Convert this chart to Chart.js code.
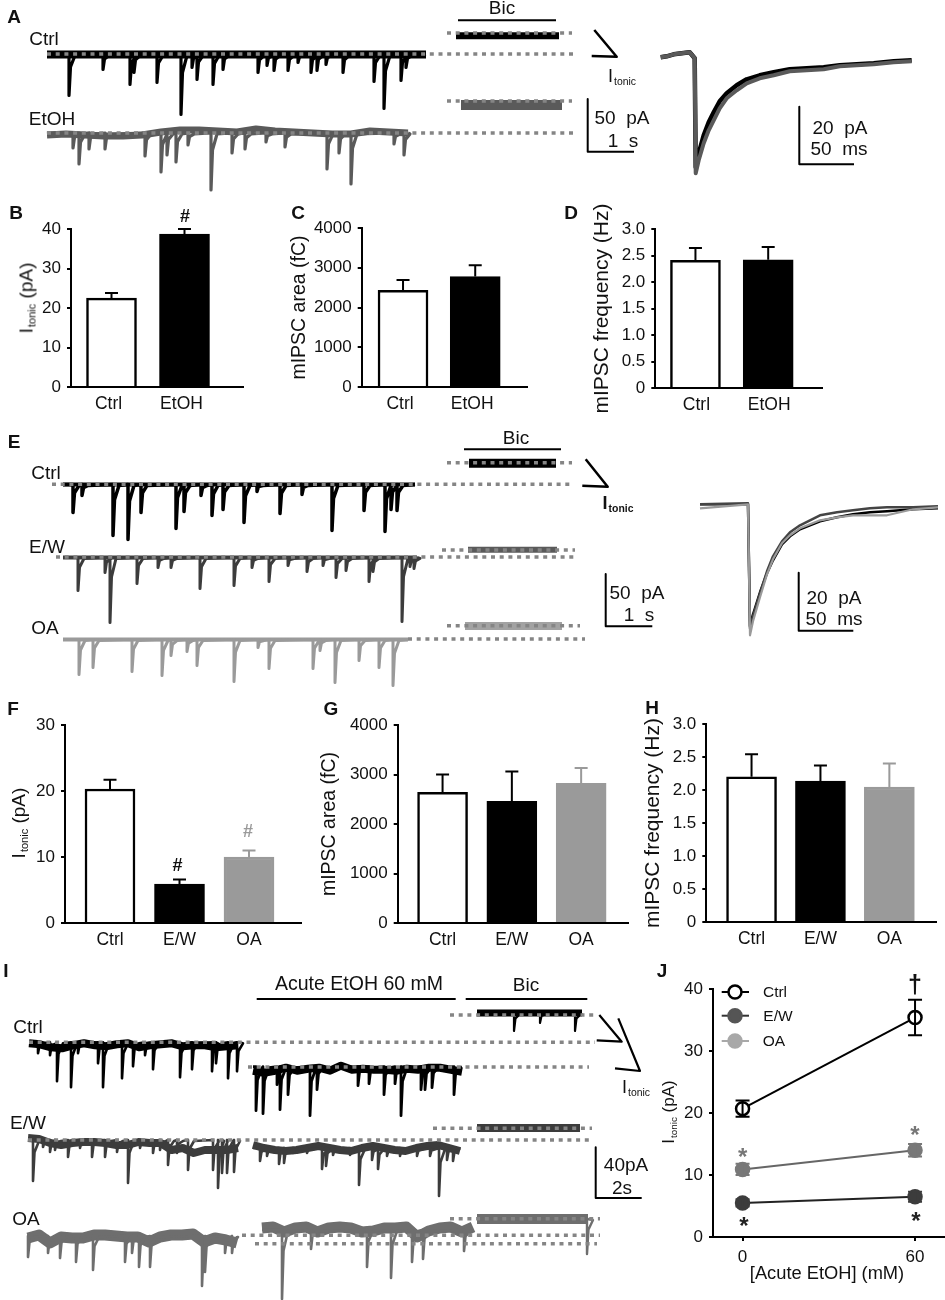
<!DOCTYPE html>
<html>
<head>
<meta charset="utf-8">
<title>Tonic current and mIPSC panels</title>
<script src="https://cdn.jsdelivr.net/npm/chart.js@4"></script>
<style>
  html, body { margin: 0; background: #fff; }
  #page { position: relative; width: 945px; height: 1300px; overflow: hidden; font-family: "Liberation Sans", Arial, sans-serif; color: #111; }
  #page canvas { position: absolute; }
  .t { position: absolute; white-space: pre; line-height: 1; transform: translate(-50%, -50%); }
  .t small { font-size: 0.58em; position: relative; top: 0.3em; margin-left: 1px; }
</style>
</head>
<body>
<div id="page"></div>
<script>
// Bar panels: categories, means, top of the error bar
const catsTwo = ['Ctrl', 'EtOH'];
const catsThree = ['Ctrl', 'E/W', 'OA'];
const bValues = [22.5, 38.7];
const bErrTop = [23.8, 40];
const cValues = [2430, 2780];
const cErrTop = [2690, 3060];
const dValues = [2.41, 2.42];
const dErrTop = [2.64, 2.66];
const fValues = [20.3, 5.9, 10];
const fErrTop = [21.7, 6.6, 11];
const gValues = [2640, 2460, 2820];
const gErrTop = [3000, 3060, 3130];
const hValues = [2.2, 2.135, 2.045];
const hErrTop = [2.54, 2.37, 2.4];
const bTicks = [0, 10, 20, 30, 40];
const cTicks = [0, 1000, 2000, 3000, 4000];
const dTicks = [0, 0.5, 1, 1.5, 2, 2.5, 3];
const fTicks = [0, 10, 20, 30];

// Panel J: acute EtOH dose response
const jDoses = [0, 60];
const jTicks = [0, 10, 20, 30, 40];
const jCtrl = [20.7, 35.4];
const jCtrlErr = [1.3, 2.85];
const jEW = [5.5, 6.5];
const jEWErr = [0.6, 0.8];
const jOA = [10.9, 14];
const jOAErr = [0.9, 1];

// Sweeps: event position along the sweep and its depth (pA)
const aCtrlT = [22, 56, 83, 87, 110, 134, 145, 150, 166, 176, 211, 220, 227, 241, 251, 264, 270, 279, 296, 327, 337, 354, 359];
const aCtrlD = [41, 15, 30, 18, 28, 60, 13, 25, 30, 15, 18, 11, 16, 16, 8, 18, 16, 10, 18, 27, 54, 26, 13];
const aEtohT = [26, 32, 42, 58, 98, 114, 120, 129, 141, 164, 185, 198, 219, 238, 280, 292, 304, 347, 357];
const aEtohD = [15, 31, 16, 16, 23, 39, 22, 29, 12, 57, 20, 16, 9, 14, 36, 20, 51, 11, 22];
const eCtrlT = [10, 19, 50, 65, 78, 113, 121, 138, 149, 160, 181, 194, 217, 239, 269, 301, 322, 328, 334];
const eCtrlD = [28, 11, 51, 55, 28, 44, 27, 11, 31, 25, 38, 7, 29, 10, 46, 26, 47, 25, 26];
const eEwT = [15, 42, 47, 74, 95, 108, 137, 171, 189, 206, 225, 244, 260, 273, 283, 306, 310, 339, 347, 351];
const eEwD = [33, 15, 65, 26, 10, 10, 31, 28, 10, 24, 8, 14, 8, 20, 13, 24, 14, 64, 9, 11];
const eOaT = [16, 30, 69, 99, 108, 124, 134, 171, 195, 206, 250, 257, 272, 296, 316, 330];
const eOaD = [35, 28, 32, 36, 16, 12, 26, 42, 8, 29, 29, 11, 43, 21, 28, 46];
const iCtrlT = [9, 21, 28, 42, 49, 69, 74, 93, 104, 116, 124, 151, 163, 183, 187, 199, 208];
const iCtrlD = [11, 13, 39, 45, 11, 21, 45, 36, 24, 13, 27, 35, 27, 29, 21, 36, 29];
const iCtrlAcuteT = [3, 10, 24, 27, 35, 57, 64, 105, 116, 131, 142, 148, 168, 172, 179, 201];
const iCtrlAcuteD = [44, 47, 18, 43, 28, 49, 23, 19, 17, 28, 17, 49, 23, 23, 21, 28];
const iEwT = [5, 15, 22, 27, 40, 52, 64, 77, 89, 100, 112, 125, 132, 140, 149, 160, 185, 190, 194, 199, 206];
const iEwD = [41, 7, 12, 10, 17, 8, 17, 17, 12, 43, 8, 13, 10, 25, 13, 30, 30, 48, 33, 33, 32];
const iEwAcuteT = [7, 14, 26, 31, 40, 54, 69, 73, 80, 97, 106, 119, 125, 134, 147, 164, 177, 186, 194, 200];
const iEwAcuteD = [13, 8, 16, 15, 5, 5, 21, 18, 7, 7, 37, 12, 21, 8, 8, 8, 8, 48, 12, 13];
const iOaT = [0, 20, 32, 48, 65, 97, 104, 111, 122, 174, 177, 197, 204];
const iOaD = [21, 17, 22, 26, 34, 26, 17, 31, 31, 50, 36, 17, 17];
const iOaAcuteT = [20, 49, 105, 129, 150, 161, 202];
const iOaAcuteD = [69, 19, 37, 48, 32, 29, 21];
const iBicCtrlT = [37, 63, 98];
const iBicCtrlD = [18, 10, 18];
const iBicOaT = [110];
const iBicOaD = [35];

// Baseline drift along a sweep, read at even steps (pA)
const aEtohDrift = [2, 1, 2, 3, 3, 2, -1, -3, -3, -2, -1, -4, -2, -1, 0, 1, 1, -2, -1, 0];
const iCtrlDrift = [1, 2, 5, 6, 3, 1, 3, 4, 2, 1, 5, 3, 2, 1, 4, 3, 3, 5, 4, 3];
const iCtrlAcuteDrift = [4, 6, 4, 1, 4, 2, 1, 4, -1, 3, 2, 3, 3, 4, 2, 3, 1, 1, 3, 5];
const iEwDrift = [-2, -1, 3, 5, 3, 2, 2, 3, 5, 5, 2, 3, 3, 10, 8, 13, 10, 10, 10, 8];
const iEwAcuteDrift = [-3, 0, 2, 3, 2, 0, -2, 0, 2, 3, 0, -2, 0, 2, 3, 0, -2, -3, 0, 3];
const iOaDrift = [2, -1, 7, 1, 2, 2, -1, -1, 0, 1, 1, 6, 1, -1, -1, -2, 6, 2, 4, 7];
const iOaAcuteDrift = [-2, -3, 2, -2, -3, 2, -2, -3, -2, 2, 1, -2, -2, -3, 7, 1, -2, -3, 2, -3];

// Averaged mIPSCs: time along the trace and depth (pA)
const avgAT = [0, 6, 13, 29, 34, 35, 38, 43, 48, 53, 59, 66, 76, 86, 99, 113, 129, 146, 163, 179, 196, 213, 233, 251];
const avgACtrl = [0, -1, -3, -5, 1, 110, 96, 78, 65, 55, 44, 36, 28, 22, 18, 15, 12, 11, 10, 8, 7, 6, 4, 3];
const avgAEtoh = [0, -1, -3, -5, 1, 116, 103, 86, 73, 63, 51, 41, 33, 26, 21, 18, 14, 13, 12, 9, 8, 7, 5, 4];
const avgET = [0, 48, 50, 53, 60, 67, 73, 82, 90, 100, 110, 120, 137, 153, 170, 187, 213, 238];
const avgECtrl = [0, 0, 122, 110, 88, 69, 56, 40, 32, 25, 21, 17, 13, 10, 8, 7, 5, 4];
const avgEEw = [0, -1, 124, 112, 89, 67, 52, 37, 28, 21, 16, 11, 8, 6, 4, 3, 3, 2];
const avgEOa = [4, 0, 131, 117, 93, 70, 55, 39, 31, 24, 20, 16, 13, 11, 11, 11, 5, 3];

const BLACK = '#000';
const DARK = '#3c3c3c';
const MID = '#5a5a5a';
const GREY = '#9a9a9a';
const DOT = '#858585';
const FONT = '"Liberation Sans", Arial, sans-serif';
const TOP_ROOM = 40;

const page = document.getElementById('page');

function addCanvas(left, top, width, height) {
    const c = document.createElement('canvas');
    c.width = width;
    c.height = height;
    c.style.left = left + 'px';
    c.style.top = top + 'px';
    page.appendChild(c);
    return c;
}

function txt(html, x, y, size, opt) {
    opt = opt || {};
    const el = document.createElement('div');
    el.className = 't';
    el.innerHTML = html;
    el.style.left = x + 'px';
    el.style.top = y + 'px';
    el.style.fontSize = size + 'px';
    if (opt.bold) el.style.fontWeight = 'bold';
    if (opt.color) el.style.color = opt.color;
    if (opt.rot) el.style.transform = 'translate(-50%, -50%) rotate(-90deg)';
    page.appendChild(el);
}

// Error bars are not in Chart.js, so draw them through the chart's scales
const errorBars = {
    id: 'errorBars',
    afterDatasetsDraw(chart) {
        const ctx = chart.ctx;
        chart.data.datasets.forEach(function(ds, i) {
            if (!ds.errTop && !ds.errPlus) return;
            const meta = chart.getDatasetMeta(i);
            meta.data.forEach(function(el, k) {
                const cols = ds.errColors;
                const x = el.x;
                const yScale = chart.scales.y;
                let top, bottom;
                if (ds.errTop) {
                    top = yScale.getPixelForValue(ds.errTop[k]);
                    bottom = yScale.getPixelForValue(ds.means[k]);
                } else {
                    top = yScale.getPixelForValue(ds.means[k] + ds.errPlus[k]);
                    bottom = yScale.getPixelForValue(ds.means[k] - ds.errPlus[k]);
                }
                ctx.save();
                ctx.strokeStyle = cols[k];
                ctx.lineWidth = 2;
                ctx.beginPath();
                ctx.moveTo(x, top);
                ctx.lineTo(x, bottom);
                ctx.moveTo(x - ds.cap, top);
                ctx.lineTo(x + ds.cap, top);
                if (ds.errPlus) {
                    ctx.moveTo(x - ds.cap, bottom);
                    ctx.lineTo(x + ds.cap, bottom);
                }
                ctx.stroke();
                ctx.restore();
            });
        });
    }
};

function yAxis(ticks, max, pad, title, titleSize) {
    return {
        min: 0,
        max: max,
        afterBuildTicks: function(s) { s.ticks = ticks.map(function(v) { return { value: v }; }); },
        afterFit: function(s) { s.width = pad; },
        border: { color: BLACK, width: 2 },
        grid: { drawOnChartArea: false, color: BLACK, lineWidth: 2, tickLength: 4 },
        ticks: {
            color: '#111',
            padding: 6,
            font: { family: FONT, size: 17 },
            callback: function(v) { return (max === 3 && v !== 0) ? v.toFixed(1) : String(v); }
        },
        title: title ? { display: true, text: title, color: '#111', padding: 0, font: { family: FONT, size: titleSize } } : { display: false }
    };
}

// Plot rectangle is given in page pixels; first/step place the bar centres
function barPanel(cfg) {
    const pad = cfg.titleX ? cfg.l - cfg.titleX + cfg.titleSize * 0.6 : 60;
    const c = addCanvas(cfg.l - pad, cfg.t - TOP_ROOM, cfg.r - cfg.l + pad + 8, cfg.b - cfg.t + TOP_ROOM + 32);
    const pos = cfg.cats.map(function(_, i) { return i; });
    new Chart(c, {
        type: 'bar',
        data: {
            datasets: [{
                data: pos.map(function(p, i) { return { x: p, y: cfg.values[i] }; }),
                means: cfg.values,
                errTop: cfg.errTop,
                errColors: cfg.errColors,
                cap: 6.5,
                backgroundColor: cfg.fills,
                borderColor: cfg.edges,
                borderWidth: 2.5,
                barThickness: 50,
                borderSkipped: 'bottom'
            }]
        },
        options: {
            responsive: false,
            animation: false,
            layout: { autoPadding: false, padding: { top: TOP_ROOM, right: 8, left: 0, bottom: 0 } },
            plugins: { legend: { display: false }, tooltip: { enabled: false } },
            scales: {
                x: {
                    type: 'linear',
                    offset: false,
                    bounds: 'data',
                    min: (cfg.l - cfg.first) / cfg.step,
                    max: (cfg.r - cfg.first) / cfg.step,
                    afterBuildTicks: function(s) { s.ticks = pos.map(function(v) { return { value: v }; }); },
                    afterFit: function(s) { s.height = 32; },
                    border: { color: BLACK, width: 2 },
                    grid: { display: false, drawTicks: false },
                    ticks: {
                        color: '#111',
                        padding: 7,
                        maxRotation: 0,
                        autoSkip: false,
                        labelOffset: cfg.shift || 0,
                        font: { family: FONT, size: 17.5 },
                        callback: function(v) { return cfg.cats[v]; }
                    }
                },
                y: yAxis(cfg.ticks, cfg.max, pad, cfg.title, cfg.titleSize)
            }
        },
        plugins: [errorBars]
    });
}

const WHITE_BAR = '#fff';

barPanel({ l: 71, t: 229, r: 243, b: 387.5, first: 111.5, step: 73, shift: -3, cats: catsTwo, values: bValues, errTop: bErrTop,
    fills: [WHITE_BAR, BLACK], edges: [BLACK, BLACK], errColors: [BLACK, BLACK], ticks: bTicks, max: 40 });
barPanel({ l: 362, t: 228, r: 528, b: 387.5, first: 403.5, step: 72.5, shift: -3, cats: catsTwo, values: cValues, errTop: cErrTop,
    fills: [WHITE_BAR, BLACK], edges: [BLACK, BLACK], errColors: [BLACK, BLACK], ticks: cTicks, max: 4000,
    title: 'mIPSC area (fC)', titleX: 300, titleSize: 19.5 });
barPanel({ l: 655.7, t: 229, r: 823, b: 388, first: 696, step: 73, shift: 1, cats: catsTwo, values: dValues, errTop: dErrTop,
    fills: [WHITE_BAR, BLACK], edges: [BLACK, BLACK], errColors: [BLACK, BLACK], ticks: dTicks, max: 3,
    title: 'mIPSC frequency (Hz)', titleX: 603, titleSize: 21 });
barPanel({ l: 65, t: 724.5, r: 301, b: 922.5, first: 110, step: 69.5, cats: catsThree, values: fValues, errTop: fErrTop,
    fills: [WHITE_BAR, BLACK, GREY], edges: [BLACK, BLACK, GREY], errColors: [BLACK, BLACK, GREY], ticks: fTicks, max: 30 });
barPanel({ l: 398, t: 724.5, r: 629, b: 922.5, first: 443, step: 69.5, cats: catsThree, values: gValues, errTop: gErrTop,
    fills: [WHITE_BAR, BLACK, GREY], edges: [BLACK, BLACK, GREY], errColors: [BLACK, BLACK, GREY], ticks: cTicks, max: 4000,
    title: 'mIPSC area (fC)', titleX: 330, titleSize: 19.5 });
barPanel({ l: 706.7, t: 724.3, r: 936.7, b: 923, first: 752, step: 69, cats: catsThree, values: hValues, errTop: hErrTop,
    fills: [WHITE_BAR, BLACK, GREY], edges: [BLACK, BLACK, GREY], errColors: [BLACK, BLACK, GREY], ticks: dTicks, max: 3,
    title: 'mIPSC frequency (Hz)', titleX: 654, titleSize: 21 });

// Panel J
(function() {
    const l = 712.7, t = 989, r = 945, b = 1237.7, pad = 60;
    const perUnit = (915 - 742.3) / 60;
    const c = addCanvas(l - pad, t - TOP_ROOM, r - l + pad, b - t + TOP_ROOM + 32);
    function series(vals, errs, line, fill, edge, errCol) {
        return {
            data: jDoses.map(function(d, i) { return { x: d, y: vals[i] }; }),
            means: vals,
            errPlus: errs,
            errColors: [errCol, errCol],
            cap: 7,
            borderColor: line,
            borderWidth: 2,
            pointRadius: 6.5,
            pointBorderWidth: 2.5,
            pointBackgroundColor: fill,
            pointBorderColor: edge
        };
    }
    new Chart(c, {
        type: 'line',
        data: {
            datasets: [
                series(jCtrl, jCtrlErr, BLACK, '#fff', BLACK, BLACK),
                series(jEW, jEWErr, '#222', DARK, DARK, DARK),
                series(jOA, jOAErr, '#666', '#787878', '#787878', '#787878')
            ]
        },
        options: {
            responsive: false,
            animation: false,
            layout: { autoPadding: false, padding: { top: TOP_ROOM, right: 0, left: 0, bottom: 0 } },
            plugins: { legend: { display: false }, tooltip: { enabled: false } },
            scales: {
                x: {
                    type: 'linear',
                    bounds: 'data',
                    min: -(742.3 - l) / perUnit,
                    max: (r - 742.3) / perUnit,
                    afterBuildTicks: function(s) { s.ticks = jDoses.map(function(v) { return { value: v }; }); },
                    afterFit: function(s) { s.height = 32; },
                    border: { color: BLACK, width: 2 },
                    grid: { drawOnChartArea: false, color: BLACK, lineWidth: 2, tickLength: 4 },
                    ticks: { color: '#111', padding: 6, font: { family: FONT, size: 17 }, maxRotation: 0, autoSkip: false }
                },
                y: yAxis(jTicks, 40, pad)
            }
        },
        plugins: [errorBars]
    });
})();

// Everything that is a sweep or a scale bar goes on one chart behind the panels
const overlay = [];

function seg(points, color, width) {
    overlay.push({
        data: points.map(function(p) { return { x: p[0], y: p[1] }; }),
        borderColor: color,
        borderWidth: width,
        order: 2
    });
}

function dots(x1, x2, y) {
    overlay.push({
        data: [{ x: x1, y: y }, { x: x2, y: y }],
        borderColor: DOT,
        borderWidth: 3.5,
        borderDash: [4, 4.7],
        order: 0
    });
}

function sweep(times, depths, x0, base, len, color, width, band, drift) {
    const pts = [{ x: x0, y: base }];
    times.forEach(function(t, i) {
        pts.push({ x: x0 + t, y: base });
        pts.push({ x: x0 + t, y: base + depths[i] });
        pts.push({ x: x0 + t + 1.5, y: base + depths[i] * 0.3 });
        pts.push({ x: x0 + t + 6, y: base + 1 });
    });
    pts.push({ x: x0 + len, y: base });
    overlay.push({ data: pts, borderColor: color, borderWidth: width, order: 1 });
    if (drift) {
        seg(drift.map(function(v, i) { return [x0 + i * len / (drift.length - 1), base + v]; }), color, band);
    } else {
        seg([[x0, base], [x0 + len, base]], color, band);
    }
}

function avg(times, depths, x0, base, color, width, order) {
    overlay.push({
        data: times.map(function(t, i) { return { x: x0 + t, y: base + depths[i] }; }),
        borderColor: color,
        borderWidth: width,
        order: order
    });
}

function legendRow(y, fill, edge, line) {
    overlay.push({
        data: [{ x: 721.7, y: y }, { x: 735, y: y }, { x: 749, y: y }],
        borderColor: line,
        borderWidth: 2,
        pointRadius: [0, 6.5, 0],
        pointBorderWidth: 2.5,
        pointBackgroundColor: fill,
        pointBorderColor: edge,
        order: 1
    });
}

// Panel A
sweep(aCtrlT, aCtrlD, 47, 54.5, 379, BLACK, 3.2, 8);
sweep(aEtohT, aEtohD, 47, 133, 361, MID, 3.2, 7, aEtohDrift);
seg([[456, 35.7], [559, 35.7]], BLACK, 7);
seg([[461, 105], [562, 105]], MID, 10);
dots(47, 573, 54);
dots(47, 573, 133);
dots(447, 572, 33);
dots(447, 572, 101);
seg([[458, 20.3], [556, 20.3]], BLACK, 2);
seg([[594.3, 30], [616.7, 56.7], [591.7, 56]], BLACK, 2.5);
seg([[587.7, 99], [587.7, 151.7], [634, 151.7]], BLACK, 2);
seg([[799.3, 106.7], [799.3, 164.3], [854, 164.3]], BLACK, 2);
avg(avgAT, avgACtrl, 660.7, 57.3, BLACK, 4.5, 2);
avg(avgAT, avgAEtoh, 660.7, 57.3, MID, 4, 1);

// Panel E
sweep(eCtrlT, eCtrlD, 63, 484.5, 352, BLACK, 3.5, 4);
sweep(eEwT, eEwD, 63, 557.5, 354, DARK, 3, 4);
sweep(eOaT, eOaD, 63, 639.5, 345, GREY, 3, 4);
seg([[469, 463.3], [556, 463.3]], BLACK, 9);
seg([[468, 549.7], [557, 549.7]], MID, 6);
seg([[465, 626], [562, 626]], '#a2a2a2', 8);
dots(52, 574, 484.3);
dots(56, 574, 557);
dots(408, 585, 639);
dots(447, 572, 462.7);
dots(442, 575, 550);
dots(447, 580, 625.7);
seg([[464, 449.3], [561, 449.3]], BLACK, 2);
seg([[585.7, 459.3], [607.7, 486.7], [582.3, 485.7]], BLACK, 2.5);
seg([[605.7, 574], [605.7, 626.3], [652.3, 626.3]], BLACK, 2);
seg([[798.7, 572.7], [798.7, 630.7], [853.3, 630.7]], BLACK, 2);
avg(avgET, avgECtrl, 700, 504.3, BLACK, 2.5, 3);
avg(avgET, avgEEw, 700, 504.3, '#444', 2.5, 2);
avg(avgET, avgEOa, 700, 504.3, GREY, 2.2, 1);

// Panel I
sweep(iCtrlT, iCtrlD, 29, 1042.3, 209, BLACK, 2.6, 8, iCtrlDrift);
sweep(iCtrlAcuteT, iCtrlAcuteD, 253, 1066.7, 209, BLACK, 2.8, 8, iCtrlAcuteDrift);
sweep(iEwT, iEwD, 28, 1140, 210, DARK, 2.6, 8, iEwDrift);
sweep(iEwAcuteT, iEwAcuteD, 253, 1148, 207, DARK, 2.6, 8, iEwAcuteDrift);
sweep(iOaT, iOaD, 28, 1236, 209, '#6e6e6e', 2.6, 11, iOaDrift);
sweep(iOaAcuteT, iOaAcuteD, 262, 1230, 211, '#6e6e6e', 2.6, 11, iOaAcuteDrift);
sweep(iBicCtrlT, iBicCtrlD, 477, 1013, 105, BLACK, 2.2, 7);
seg([[477, 1128], [580, 1128]], DARK, 8);
sweep(iBicOaT, iBicOaD, 477, 1219, 111, '#6e6e6e', 2.4, 10);
dots(29, 595, 1042.3);
dots(248, 589, 1067);
dots(28, 592, 1140);
dots(242, 600, 1235.3);
dots(255, 597, 1243.7);
dots(450, 594, 1015);
dots(433, 592, 1128.3);
dots(450, 600, 1218.7);
seg([[256.7, 999], [455.7, 999]], BLACK, 2);
seg([[465.7, 999], [587.3, 999]], BLACK, 2);
seg([[599.3, 1015], [621.7, 1041.7], [596.7, 1040.3]], BLACK, 2.2);
seg([[618.3, 1018.3], [640, 1071], [615, 1068.3]], BLACK, 2.2);
seg([[595.7, 1147.3], [595.7, 1198], [641.7, 1198]], BLACK, 2);

// Panel J legend
legendRow(992, '#fff', BLACK, BLACK);
legendRow(1015.7, '#555', '#555', '#333');
legendRow(1041, '#a8a8a8', '#a8a8a8', '#a8a8a8');

const overlayCanvas = addCanvas(0, 0, 945, 1300);
new Chart(overlayCanvas, {
    type: 'scatter',
    data: { datasets: overlay.map(function(d) { return Object.assign({ showLine: true, pointRadius: 0, tension: 0, borderJoinStyle: 'round' }, d); }) },
    options: {
        responsive: false,
        animation: false,
        layout: { padding: 0 },
        plugins: { legend: { display: false }, tooltip: { enabled: false } },
        scales: {
            x: { display: false, min: 0, max: 945 },
            y: { display: false, min: 0, max: 1300, reverse: true }
        }
    }
});

// Panel letters
[['A', 14, 16], ['B', 16, 212], ['C', 298, 212], ['D', 571, 212], ['E', 14, 441], ['F', 13, 708], ['G', 331, 708], ['H', 652, 707], ['I', 6, 970], ['J', 662, 970]].forEach(function(p) {
    txt(p[0], p[1], p[2], 19, { bold: true });
});

const ITONIC = 'I<small>tonic</small>';

// Trace labels
txt('Ctrl', 44, 38, 19);
txt('EtOH', 52, 118, 19);
txt('Bic', 502, 7, 19);
txt(ITONIC, 622, 76, 18);
txt('50  pA', 622, 117, 19);
txt('1  s', 623, 140, 19);
txt('20  pA', 840, 127, 19);
txt('50  ms', 839, 148, 19);

txt('Ctrl', 46, 472, 19);
txt('E/W', 47, 546, 19);
txt('OA', 45, 627, 19);
txt('Bic', 516, 437, 19);
txt(ITONIC, 618, 503, 18, { bold: true });
txt('50  pA', 637, 592, 19);
txt('1  s', 639, 614, 19);
txt('20  pA', 834, 597, 19);
txt('50  ms', 834, 618, 19);

txt('Ctrl', 28, 1026, 19);
txt('E/W', 28, 1122, 19);
txt('OA', 26, 1218, 19);
txt('Acute EtOH 60 mM', 359, 984, 19.5);
txt('Bic', 526, 984, 19);
txt(ITONIC, 636, 1087, 18);
txt('40pA', 626, 1164, 19);
txt('2s', 622, 1187, 19);

// Axis titles the scales cannot subscript
txt(ITONIC + ' (pA)', 26, 298, 19, { rot: true });
txt(ITONIC + ' (pA)', 18, 823, 19, { rot: true });
txt(ITONIC + ' (pA)', 668, 1112, 17, { rot: true });
txt('[Acute EtOH] (mM)', 827, 1273, 18.3);

// Significance marks
txt('#', 185, 216, 18, { bold: true });
txt('#', 177.5, 865, 18, { bold: true });
txt('#', 248, 831, 18, { bold: true, color: GREY });
txt('*', 742.7, 1157, 24, { bold: true, color: '#777' });
txt('*', 915, 1135, 24, { bold: true, color: '#777' });
txt('*', 744, 1226, 24, { bold: true, color: '#222' });
txt('*', 916, 1221, 24, { bold: true, color: '#222' });
txt('†', 915, 984, 25, { bold: true });

// Legend text for J
txt('Ctrl', 775, 992, 15.5);
txt('E/W', 778, 1016, 15.5);
txt('OA', 774, 1041, 15.5);
</script>
</body>
</html>
